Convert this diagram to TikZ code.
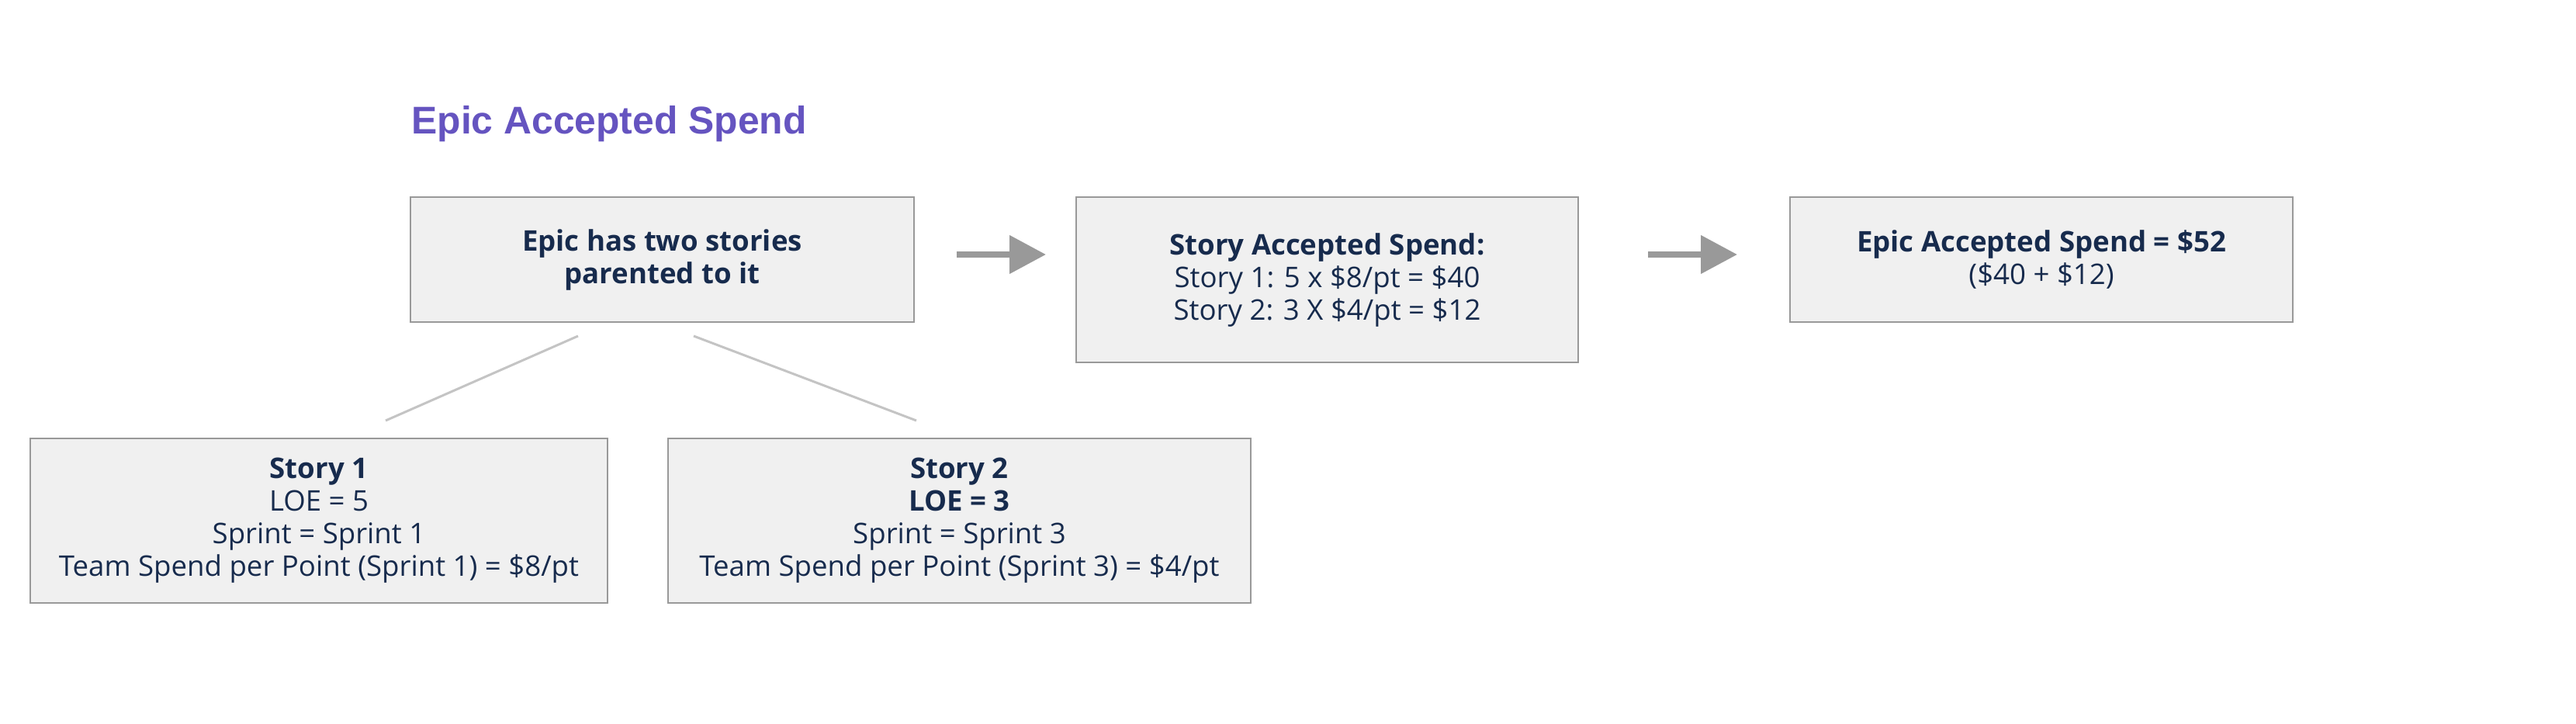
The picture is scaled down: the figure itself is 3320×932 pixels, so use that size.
\documentclass[tikz,border=0pt]{standalone}
\usepackage{fontspec}
\setmainfont{Open Sans}
\newfontfamily\titlefont{Liberation Sans}
\usetikzlibrary{arrows.meta}

\definecolor{boxfill}{HTML}{F0F0F0}
\definecolor{boxline}{HTML}{999999}
\definecolor{inktext}{HTML}{172B4D}
\definecolor{titleviolet}{HTML}{6554C0}
\definecolor{linkgray}{HTML}{C4C4C4}

\tikzset{
  card/.style={draw=boxline, fill=boxfill, line width=1pt, text=inktext,
    align=center, inner sep=0pt, font=\fontsize{18.3}{21}\selectfont},
  flow/.style={draw=boxline, line width=4pt, -{Triangle[length=23.5pt,width=24pt]}},
  link/.style={draw=linkgray, line width=1.5pt},
}

\begin{document}
\begin{tikzpicture}[x=0.5pt,y=-0.5pt]
\useasboundingbox (0,0) rectangle (3320,932);

% heading
\node[anchor=base west, inner sep=0pt, text=titleviolet,
  font=\titlefont\bfseries\fontsize{24.9}{28}\selectfont] (title) at (530,172) {Epic Accepted Spend};

% top row
\node[card, minimum width=324.5pt, minimum height=80.5pt] (epic) at (853.5,334.5)
  {\textbf{Epic has two stories}\\\textbf{parented to it}};
\node[card, minimum width=323.5pt, minimum height=106.5pt] (storyspend) at (1710.5,360.5)
  {\textbf{Story Accepted Spend:}\\Story 1: 5 x \$8/pt = \$40\\Story 2: 3 X \$4/pt = \$12};
\node[card, minimum width=324pt, minimum height=80.5pt] (epicspend) at (2631,334.5)
  {\textbf{Epic Accepted Spend = \$52}\\(\$40 + \$12)};

% stories
\node[card, minimum width=372pt, minimum height=106pt] (story1) at (411,671)
  {\textbf{Story 1}\\LOE = 5\\Sprint = Sprint 1\\Team Spend per Point (Sprint 1) = \$8/pt};
\node[card, minimum width=375.5pt, minimum height=106pt] (story2) at (1236.5,671)
  {\textbf{Story 2}\\\textbf{LOE = 3}\\Sprint = Sprint 3\\Team Spend per Point (Sprint 3) = \$4/pt};

% arrows
\draw[flow] ([xshift=27pt,yshift=3.25pt]epic.east) -- ([xshift=-19pt,yshift=16.25pt]storyspend.west);
\draw[flow] ([xshift=44.5pt,yshift=16.25pt]storyspend.east) -- ([xshift=-33.5pt,yshift=3.25pt]epicspend.west);

% parent links
\draw[link] ([xshift=-54.25pt,yshift=-8.5pt]epic.south) -- ([xshift=43pt,yshift=11pt]story1.north);
\draw[link] ([xshift=20.25pt,yshift=-8.5pt]epic.south) -- ([xshift=-27.75pt,yshift=11pt]story2.north);
\end{tikzpicture}
\end{document}
